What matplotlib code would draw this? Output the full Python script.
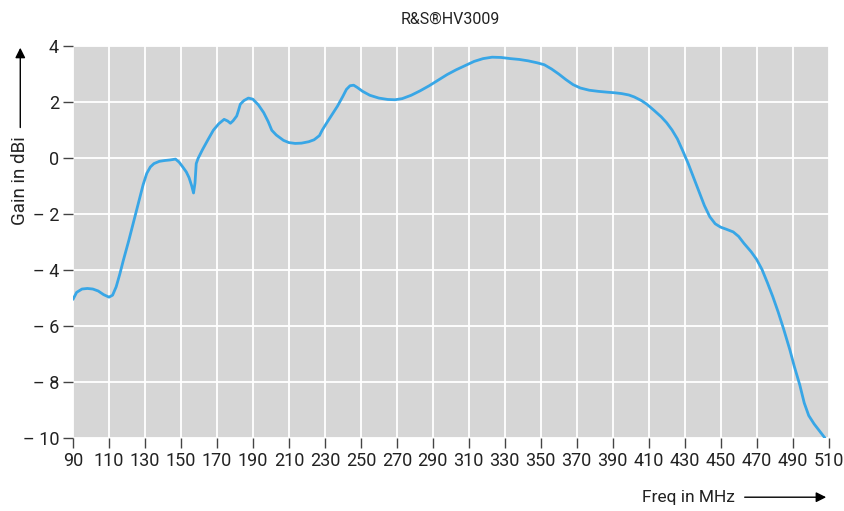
import matplotlib.pyplot as plt
import numpy as np

freq = [90, 92, 95, 98, 101, 104, 107, 110, 112, 114, 116, 118, 121, 124, 127, 129,
        131, 133, 135, 138, 141, 144, 147, 149, 151, 153, 154.5, 156, 157, 157.8,
        158.5, 159.5, 162, 165, 168, 171, 174, 176, 177.5, 179, 181, 182, 183, 185,
        187.5, 190, 193, 196, 198.5, 200.5, 203, 207, 210, 213.5, 217, 221, 224, 227,
        228.5, 231, 234, 237, 240, 242, 244, 246, 248, 251, 255, 260, 265, 269, 273,
        278, 283, 288, 293, 298, 303, 308, 313, 318, 323, 328, 333, 338, 343, 348,
        352, 356, 360, 364, 368, 372, 377, 382, 387, 391, 395, 399, 402, 406, 409,
        413, 417, 420, 423, 426, 429, 432, 435, 438, 441, 444, 447, 450, 453, 457,
        460, 463, 467, 470, 473, 476, 479, 482, 485, 488.5, 491, 494, 496.5, 499,
        502, 505, 508]
gain = [-5.05, -4.8, -4.68, -4.66, -4.68, -4.75, -4.88, -4.97, -4.9, -4.6, -4.15, -3.65,
        -2.95, -2.2, -1.45, -0.95, -0.55, -0.32, -0.2, -0.12, -0.09, -0.07, -0.04, -0.15,
        -0.32, -0.5, -0.7, -1.0, -1.25, -0.9, -0.2, -0.02, 0.3, 0.65, 0.99, 1.22, 1.38,
        1.32, 1.24, 1.33, 1.5, 1.7, 1.92, 2.05, 2.14, 2.1, 1.9, 1.62, 1.3, 0.99, 0.82,
        0.63, 0.55, 0.52, 0.53, 0.58, 0.65, 0.8, 0.99, 1.25, 1.55, 1.85, 2.2, 2.45, 2.58,
        2.6, 2.52, 2.38, 2.24, 2.14, 2.09, 2.08, 2.12, 2.24, 2.4, 2.58, 2.78, 2.98, 3.15,
        3.3, 3.45, 3.55, 3.6, 3.59, 3.55, 3.52, 3.47, 3.4, 3.33, 3.18, 3.0, 2.8, 2.62,
        2.5, 2.42, 2.38, 2.35, 2.33, 2.3, 2.25, 2.18, 2.05, 1.92, 1.7, 1.47, 1.26, 1.0,
        0.68, 0.25, -0.2, -0.7, -1.2, -1.7, -2.1, -2.35, -2.47, -2.54, -2.64, -2.8,
        -3.05, -3.35, -3.62, -3.98, -4.45, -4.95, -5.5, -6.1, -6.85, -7.45, -8.1, -8.75,
        -9.2, -9.5, -9.75, -10.0]

xticks = list(range(90, 511, 20))
yticks = list(range(-10, 5, 2))
ylabels = [str(v) if v >= 0 else '\u2013 ' + str(-v) for v in yticks]

plt.rcParams['font.family'] = ['Roboto', 'DejaVu Sans']

fig = plt.figure(figsize=(8.45, 5.11), dpi=100)
ax = fig.add_axes([0.0864, 0.1429, 0.8941, 0.7671])
ax.set_facecolor('#d6d6d6')
ax.plot(freq, gain, color='#38a6e6', lw=2.0, solid_capstyle='round', zorder=3)
ax.set_xlim(90, 510)
ax.set_ylim(-10, 4)
ax.set_xticks(xticks)
ax.set_yticks(yticks)
ax.set_yticklabels(ylabels)
ax.grid(True, color='white', lw=1.3)
ax.set_axisbelow(True)
for s in ax.spines.values():
    s.set_visible(False)
ax.tick_params(length=7, width=1, color='#444444', labelsize=13, pad=3,
               labelcolor='#222222')

fig.text(0.5329, 0.963, 'R&S\u00aeHV3009', ha='center', va='center', fontsize=11.5,
         color='#222222')
fig.text(0.024, 0.646, 'Gain in dBi', rotation=90, ha='center', va='center',
         fontsize=13.5, color='#222222')
fig.text(0.87, 0.027, 'Freq in MHz', ha='right', va='center', fontsize=12.5,
         color='#222222')
ax.annotate('', xy=(0.024, 0.912), xytext=(0.024, 0.745), xycoords='figure fraction',
            arrowprops=dict(arrowstyle='-|>', color='black', lw=1, mutation_scale=15))
ax.annotate('', xy=(0.981, 0.027), xytext=(0.878, 0.027), xycoords='figure fraction',
            arrowprops=dict(arrowstyle='-|>', color='black', lw=1, mutation_scale=15))

fig.savefig('out.png', dpi=100)
